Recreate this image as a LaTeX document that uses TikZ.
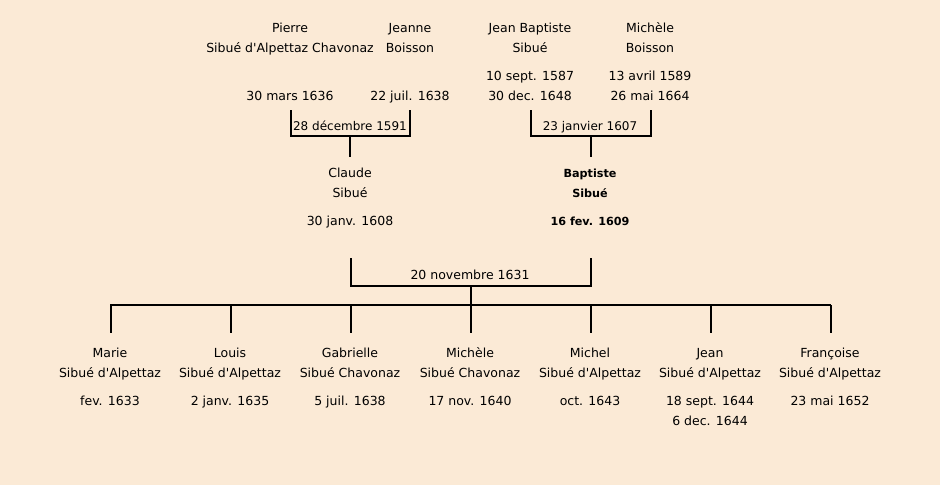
\documentclass[tikz,border=0pt]{standalone}
\usepackage{fontspec}
\setmainfont{DejaVu Sans}
\definecolor{bg}{HTML}{FBEAD6}
\newcommand{\apo}{\textquotesingle}
\begin{document}
\begin{tikzpicture}[x=1pt,y=-1pt,
  txt/.style={font=\fontsize{12.5}{14}\selectfont, anchor=base, inner sep=0pt},
  mtxt/.style={font=\fontsize{12}{14}\selectfont, anchor=base, inner sep=0pt},
  btxt/.style={font=\fontsize{11.2}{14}\selectfont\bfseries, anchor=base, inner sep=0pt},
  ln/.style={line width=1.8pt, line join=miter}]
\fill[bg] (0,0) rectangle (940,485);
\useasboundingbox (0,0) rectangle (940,485);
% parents
\node[txt] (pierreN) at (290,32) {Pierre};
\node[txt] (pierreS) at (290,52) {Sibué d\apo Alpettaz Chavonaz};
\node[txt] (pierreD) at (290,100) {30 mars 1636};
\node[txt] (jeanneN) at (410,32) {Jeanne};
\node[txt] (jeanneS) at (410,52) {Boisson};
\node[txt] (jeanneD) at (410,100) {22 juil. 1638};
\node[txt] (jbN) at (530,32) {Jean Baptiste};
\node[txt] (jbS) at (530,52) {Sibué};
\node[txt] (jbB) at (530,80) {10 sept. 1587};
\node[txt] (jbD) at (530,100) {30 dec. 1648};
\node[txt] (micheleN) at (650,32) {Michèle};
\node[txt] (micheleS) at (650,52) {Boisson};
\node[txt] (micheleB) at (650,80) {13 avril 1589};
\node[txt] (micheleD) at (650,100) {26 mai 1664};
% marriage 1
\coordinate (m1l) at (291,110);
\coordinate (m1r) at (410,110);
\coordinate (m1c) at (350,136);
\coordinate (m1s) at (350,157);
\draw[ln] (m1l) |- (m1c) -| (m1r);
\draw[ln] (m1c) -- (m1s);
\node[mtxt] (m1) at (350,130) {28 décembre 1591};
% marriage 2
\coordinate (m2l) at (531,110);
\coordinate (m2r) at (651,110);
\coordinate (m2c) at (591,136);
\coordinate (m2s) at (591,157);
\draw[ln] (m2l) |- (m2c) -| (m2r);
\draw[ln] (m2c) -- (m2s);
\node[mtxt] (m2) at (590,130) {23 janvier 1607};
% generation 2
\node[txt] (claudeN) at (350,177) {Claude};
\node[txt] (claudeS) at (350,197) {Sibué};
\node[txt] (claudeB) at (350,225) {30 janv. 1608};
\node[btxt] (baptN) at (590,177) {Baptiste};
\node[btxt] (baptS) at (590,197) {Sibué};
\node[btxt] (baptB) at (590,225) {16 fev. 1609};
% marriage 3
\coordinate (m3l) at (351,258);
\coordinate (m3r) at (591,258);
\coordinate (m3c) at (471,286);
\coordinate (m3s) at (471,305);
\draw[ln] (m3l) |- (m3c) -| (m3r);
\draw[ln] (m3c) -- (m3s);
\node[txt] (m3) at (470,279) {20 novembre 1631};
% children bar
\coordinate (barL) at (110,305);
\coordinate (barR) at (831,305);
\draw[ln] (barL) -- (barR);
\foreach \x/\id/\n/\s/\d in {
  110/c1/Marie/Sibué d\apo Alpettaz/fev. 1633,
  230/c2/Louis/Sibué d\apo Alpettaz/2 janv. 1635,
  350/c3/Gabrielle/Sibué Chavonaz/5 juil. 1638,
  470/c4/Michèle/Sibué Chavonaz/17 nov. 1640,
  590/c5/Michel/Sibué d\apo Alpettaz/oct. 1643,
  710/c6/Jean/Sibué d\apo Alpettaz/18 sept. 1644,
  830/c7/Françoise/Sibué d\apo Alpettaz/23 mai 1652}{
  \coordinate (\id top) at (\x+1,305);
  \coordinate (\id bot) at (\x+1,333);
  \draw[ln] (\id top) -- (\id bot);
  \node[txt] (\id N) at (\x,357) {\n};
  \node[txt] (\id S) at (\x,377) {\s};
  \node[txt] (\id D) at (\x,405) {\d};
}
\node[txt] (c6D2) at (710,425) {6 dec. 1644};
\end{tikzpicture}
\end{document}
